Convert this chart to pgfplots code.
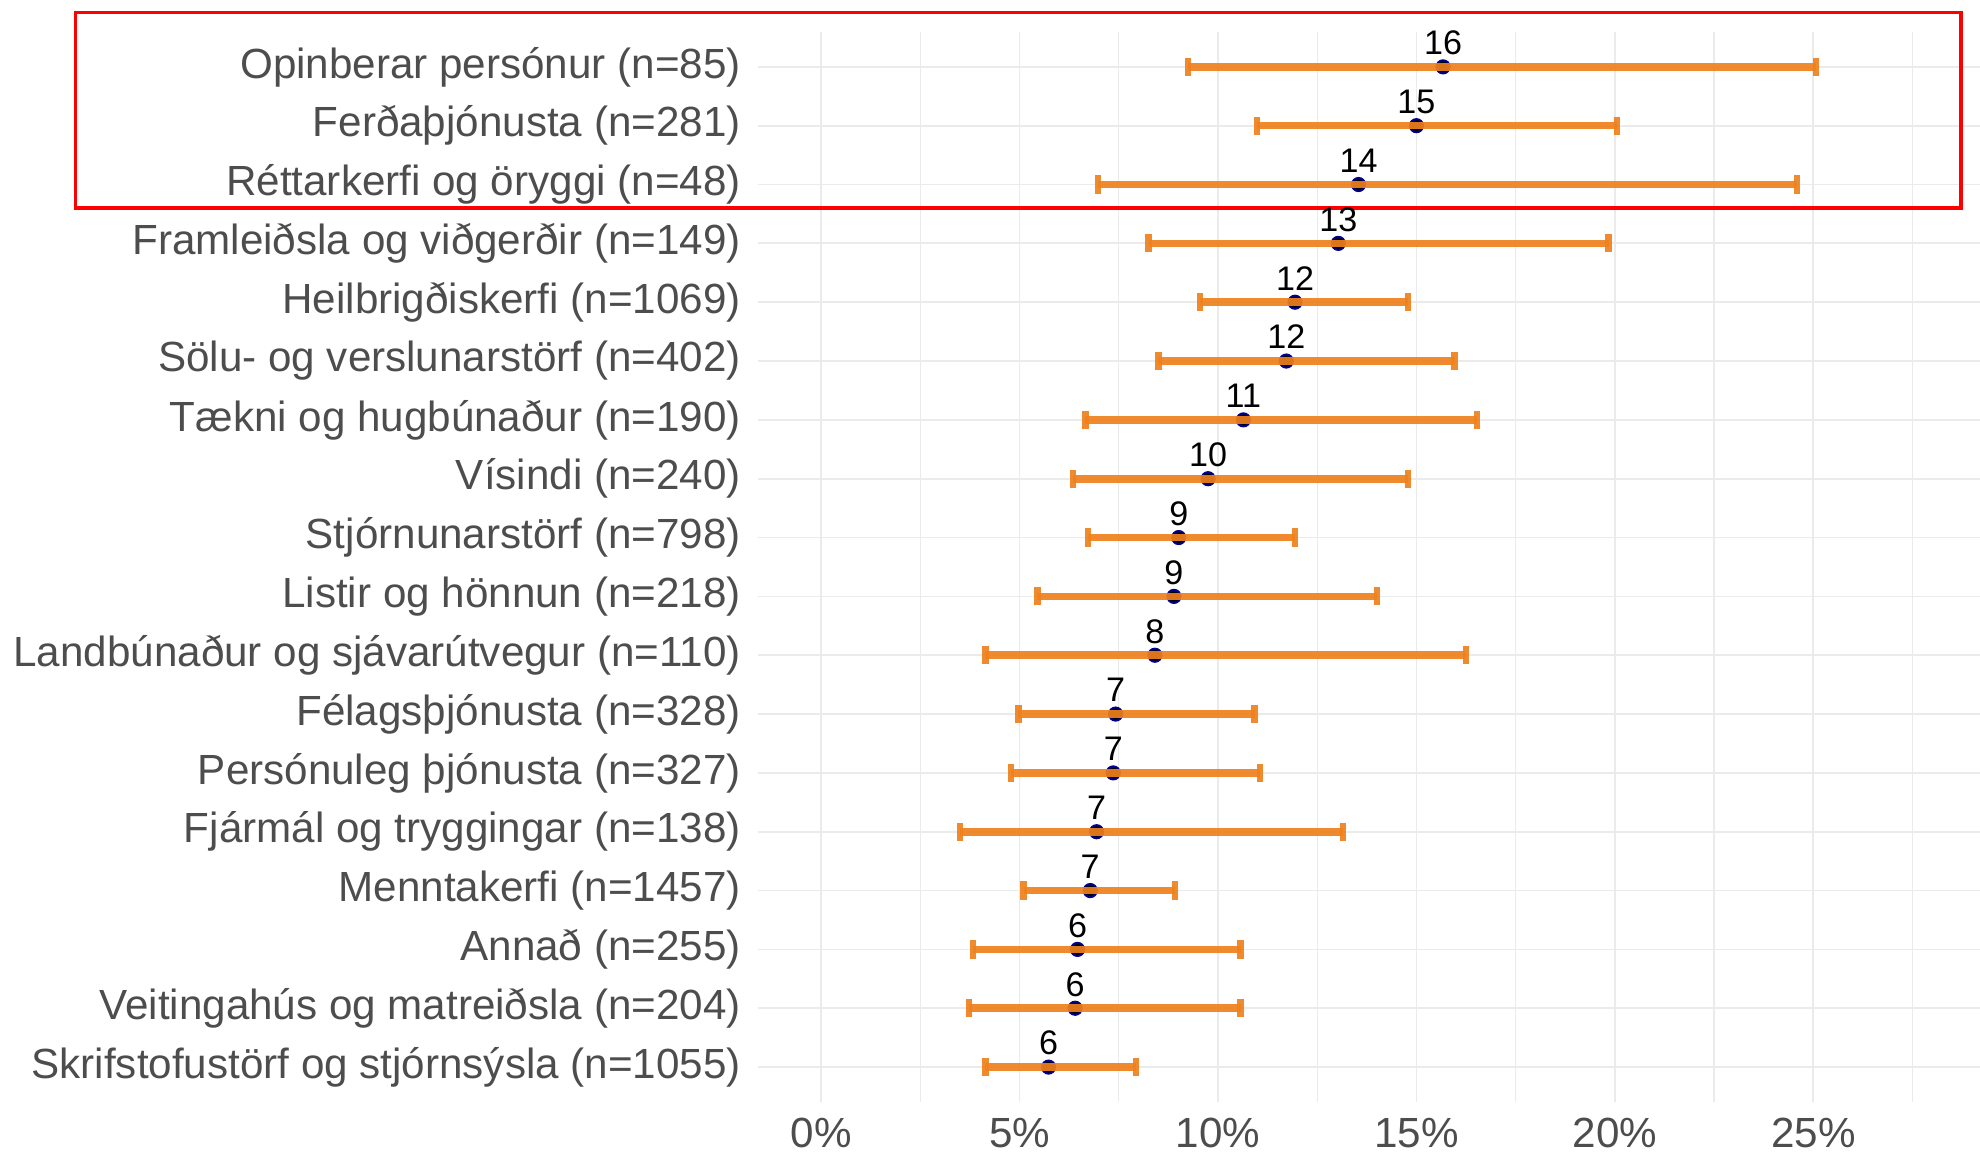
\documentclass[border=0pt]{standalone}
\usepackage{pgfplots}
\pgfplotsset{compat=1.18}
\usepackage{pgfplotstable}
\usepackage{fontspec}
\setmainfont{Liberation Sans}
\definecolor{barorange}{HTML}{EF801C}
\definecolor{dotblue}{HTML}{00008B}
\definecolor{labgray}{HTML}{4D4D4D}
\definecolor{gridgray}{HTML}{EBEBEB}

\pgfplotstableread{
row est lo hi lab
1 15.67 9.24 25.06 16
2 15.00 10.99 20.06 15
3 13.54 6.97 24.59 14
4 13.03 8.25 19.84 13
5 11.94 9.55 14.78 12
6 11.72 8.50 15.96 12
7 10.64 6.66 16.53 11
8 9.75 6.34 14.78 10
9 9.01 6.72 11.94 9
10 8.89 5.45 14.01 9
11 8.41 4.14 16.24 8
12 7.42 4.97 10.92 7
13 7.36 4.78 11.05 7
14 6.94 3.50 13.15 7
15 6.78 5.10 8.92 7
16 6.46 3.82 10.57 6
17 6.40 3.73 10.57 6
18 5.73 4.14 7.93 6
}\data

\begin{document}
\begin{tikzpicture}
\begin{axis}[
  set layers,
  scale only axis,
  width=484pt, height=424pt,
  xmin=-1.6, xmax=29.2,
  ymin=0.4, ymax=18.6,
  y dir=reverse,
  clip=false,
  axis line style={draw=none},
  major tick length=0pt, minor tick length=0pt,
  xtick={0,5,10,15,20,25},
  xticklabels={0\%,5\%,10\%,15\%,20\%,25\%},
  minor xtick={2.5,7.5,12.5,17.5,22.5,27.5},
  ytick={1,...,18},
  yticklabels={
    Opinberar persónur (n=85),
    Ferðaþjónusta (n=281),
    Réttarkerfi og öryggi (n=48),
    Framleiðsla og viðgerðir (n=149),
    Heilbrigðiskerfi (n=1069),
    Sölu- og verslunarstörf (n=402),
    Tækni og hugbúnaður (n=190),
    Vísindi (n=240),
    Stjórnunarstörf (n=798),
    Listir og hönnun (n=218),
    Landbúnaður og sjávarútvegur (n=110),
    Félagsþjónusta (n=328),
    Persónuleg þjónusta (n=327),
    Fjármál og tryggingar (n=138),
    Menntakerfi (n=1457),
    Annað (n=255),
    Veitingahús og matreiðsla (n=204),
    Skrifstofustörf og stjórnsýsla (n=1055)},
  xmajorgrids, xminorgrids, ymajorgrids,
  major grid style={draw=gridgray, line width=0.7pt},
  minor grid style={draw=gridgray, line width=0.5pt},
  yticklabel style={font=\fontsize{16.7}{17}\selectfont, text=labgray, inner sep=0pt, xshift=-6.5pt},
  xticklabel style={font=\fontsize{16.7}{17}\selectfont, text=labgray, inner sep=0pt, yshift=-6pt},
  /pgf/number format/assume math mode=true,
]
\addplot[only marks, mark=*, mark size=2.8pt, color=dotblue,
  nodes near coords, point meta=explicit symbolic,
  nodes near coords style={font=\fontsize{13.5}{14}\selectfont, text=black, anchor=base, inner sep=0pt, yshift=4.8pt}]
  table[x=est, y=row, meta=lab] {\data};
\addplot[on layer=axis foreground, only marks, mark=none,
  error bars/.cd, x dir=both, x explicit,
  error mark=|,
  error bar style={line width=3pt, color=barorange, opacity=0.92},
  error mark options={line width=2.5pt, mark size=3.6pt, color=barorange, opacity=0.92, rotate=0}]
  table[x=est, y=row,
        x error plus expr=\thisrow{hi}-\thisrow{est},
        x error minus expr=\thisrow{est}-\thisrow{lo}] {\data};
\draw[red, line width=1.5pt] (axis cs:-18.79,0.077) rectangle (axis cs:28.73,3.40);
\end{axis}
\pgfresetboundingbox
\path ([xshift=-300pt,yshift=-21pt]current axis.south west) rectangle ([yshift=12.5pt]current axis.north east);
\end{tikzpicture}
\end{document}
